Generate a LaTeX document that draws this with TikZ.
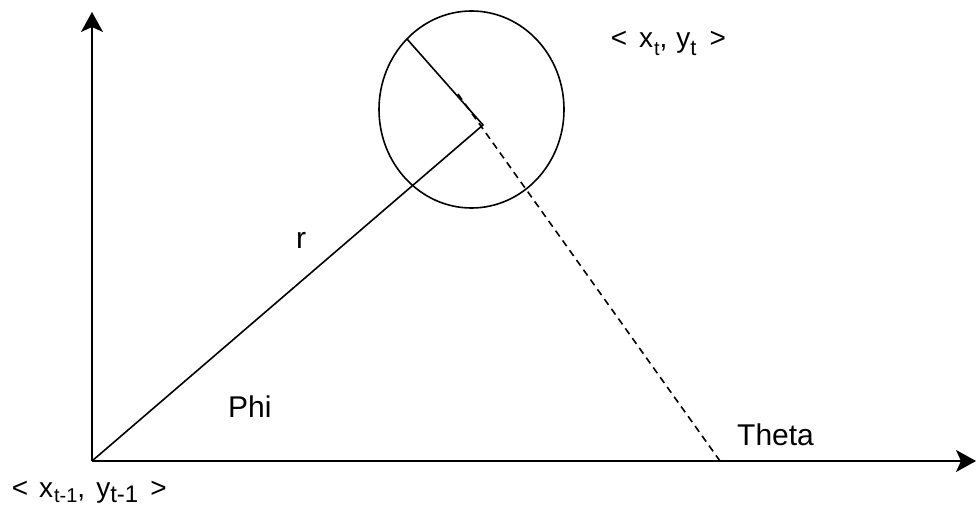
\documentclass[tikz,border=0pt]{standalone}
\usepackage{fontspec}
\setmainfont{Liberation Sans}
\usetikzlibrary{arrows.meta}
\begin{document}
\begin{tikzpicture}[x=1pt,y=-1pt,
  axis/.style={line width=2pt,-{Stealth[length=20pt,width=22pt,inset=5pt]}},
  seg/.style={line width=1.6pt},
  lbl/.style={inner sep=0pt,font=\fontsize{30}{36}\selectfont},
  clbl/.style={inner sep=0pt,font=\fontsize{28}{34}\selectfont}]
\useasboundingbox (0,0) rectangle (976,510);
\newcommand{\sbs}[2][20]{\raisebox{-8pt}{\fontsize{#1}{24}\selectfont #2}}
\newcommand{\sbb}[2][20]{\raisebox{-5pt}{\fontsize{#1}{24}\selectfont #2}}
\coordinate (O) at (92,461);
\coordinate (ytip) at (92,12);
\coordinate (xtip) at (976,461);
\coordinate (C) at (483,125);
\coordinate (P) at (407,39);
\coordinate (D1) at (458,94);
\coordinate (D2) at (720,461);
\draw[line width=1.6pt] (471.5,109.5) ellipse [x radius=92.5, y radius=98.5];
\node[coordinate] (circ) at (471.5,109.5) {};
\draw[seg] (O) -- (C) -- (P);
\draw[seg,dash pattern=on 7pt off 5pt] (D1) -- (D2);
\draw[axis] (O) -- (ytip);
\draw[axis] (O) -- (xtip);
\node[lbl,anchor=base west] (lr) at (296,249) {r};
\node[lbl,anchor=base west] (lphi) at (228,417) {Phi};
\node[lbl,anchor=base west] (ltheta) at (737,445) {Theta};
\node[clbl,anchor=base west] (lxt) at (610.6,48)
  {<\hspace{12pt}x\hspace{1pt}\sbs{t},\hspace{9pt}y\sbs[22]{t}\hspace{13pt}>};
\node[clbl,anchor=base west] (lxt1) at (11.6,497)
  {<\hspace{11pt}x\hspace{1pt}\sbb{t-1},\hspace{11pt}y\sbb[24]{t-1}\hspace{12pt}>};
\end{tikzpicture}
\end{document}
